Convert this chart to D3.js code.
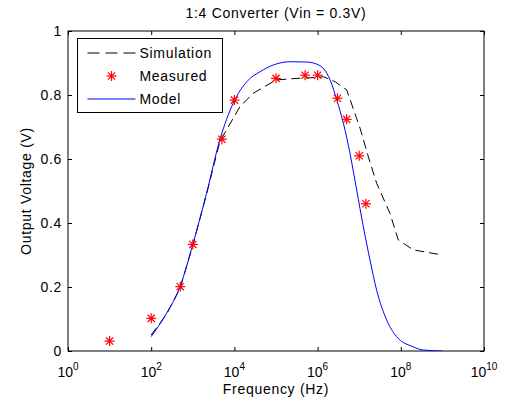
<!DOCTYPE html>
<html>
<head>
<meta charset="utf-8">
<script src="https://cdn.jsdelivr.net/npm/d3@7"></script>
<style>
  body { margin: 0; background: #fff; }
  svg { display: block; }
  text { font-family: Arial, "Liberation Sans", Helvetica, sans-serif; fill: #000; }
</style>
</head>
<body>
<svg id="chart" width="508" height="408"></svg>
<script>
// ---- data ----
const title = "1:4 Converter (Vin = 0.3V)";
const xLabel = "Frequency (Hz)";
const yLabel = "Output Voltage (V)";
const legendLabels = ["Simulation", "Measured", "Model"];

const xTickExps = [0, 2, 4, 6, 8, 10];
const yTicks = [0, 0.2, 0.4, 0.6, 0.8, 1];

const measuredFreq = [1e1, 1e2, 5e2, 1e3, 5e3, 1e4, 1e5, 5e5, 1e6, 3e6, 5e6, 1e7, 1.45e7];
const measuredVolt = [0.031, 0.102, 0.201, 0.333, 0.662, 0.784, 0.852, 0.862, 0.862, 0.79, 0.724, 0.61, 0.46];

const simFreq = [1e2, 2.34e2, 4.9e2, 1e3, 2.14e3, 4.47e3, 1.35e4, 2.8e4, 1e5, 3.2e5, 1e6, 1.38e6, 2.6e6, 5e6, 1.05e7, 1.66e7, 2.63e7, 5.5e7, 8.7e7, 2e8, 1e9];
const simVolt = [0.05, 0.115, 0.195, 0.33, 0.49, 0.655, 0.763, 0.805, 0.847, 0.852, 0.855, 0.857, 0.842, 0.816, 0.696, 0.607, 0.524, 0.43, 0.347, 0.316, 0.30];

const modelFreq = [1e2, 2.34e2, 4.9e2, 1.02e3, 2.14e3, 4.47e3, 9.33e3, 2.0e4, 4.17e4, 8.7e4, 2.19e5, 5.5e5, 7.9e5, 1.38e6, 2.0e6, 2.9e6, 4.2e6, 6.0e6, 8.7e6, 1.26e7, 1.82e7, 2.63e7, 4.57e7, 7.9e7, 2.0e8, 3.5e8, 1e9];
const modelVolt = [0.045, 0.118, 0.2, 0.337, 0.493, 0.66, 0.774, 0.842, 0.873, 0.894, 0.904, 0.903, 0.90, 0.883, 0.847, 0.784, 0.71, 0.618, 0.503, 0.388, 0.284, 0.19, 0.097, 0.045, 0.013, 0.003, 0.0];

// ---- layout ----
const margin = {left: 68, top: 31, right: 24, bottom: 57};
const W = 508, H = 408;
const pw = W - margin.left - margin.right;
const ph = H - margin.top - margin.bottom;
const FS = "14px", LS = "0.7px";

const svg = d3.select("#chart");
const g = svg.append("g").attr("transform", `translate(${margin.left},${margin.top})`);

const x = d3.scaleLog().domain([1, 1e10]).range([0, pw]);
const y = d3.scaleLinear().domain([0, 1]).range([ph, 0]);

g.append("clipPath").attr("id", "clip").append("rect").attr("width", pw).attr("height", ph);

// axes (ticks inside, on all sides)
const xTickVals = xTickExps.map(e => Math.pow(10, e));
const bottomAxis = d3.axisBottom(x).tickValues(xTickVals).tickSize(-4).tickFormat("");
const topAxis = d3.axisTop(x).tickValues(xTickVals).tickSize(-4).tickFormat("");
const leftAxis = d3.axisLeft(y).tickValues(yTicks).tickSize(-4).tickPadding(6).tickFormat(d3.format("~g"));
const rightAxis = d3.axisRight(y).tickValues(yTicks).tickSize(-4).tickFormat("");

function styleAxis(sel) {
  sel.select(".domain").remove();
  sel.selectAll("line").attr("stroke", "#000");
  sel.selectAll("text").style("font-size", FS).style("letter-spacing", LS).attr("fill", "#000");
}
g.append("g").attr("transform", `translate(0,${ph})`).call(bottomAxis).call(styleAxis);
g.append("g").call(topAxis).call(styleAxis);
g.append("g").call(leftAxis).call(styleAxis);
g.append("g").attr("transform", `translate(${pw},0)`).call(rightAxis).call(styleAxis);

// x tick labels with superscripts
const xl = g.append("g");
xTickExps.forEach(e => {
  const t = xl.append("text")
    .attr("x", x(Math.pow(10, e)))
    .attr("y", ph + 26)
    .attr("text-anchor", "middle")
    .style("font-size", "14px");
  t.append("tspan").text("10");
  t.append("tspan").attr("dy", -7).style("font-size", "10px").text(String(e));
});

// box
g.append("rect").attr("width", pw).attr("height", ph)
  .attr("fill", "none").attr("stroke", "#000").attr("stroke-width", 1);

// lines
const plot = g.append("g").attr("clip-path", "url(#clip)");

plot.append("path").datum(simFreq)
  .attr("d", d3.line().x((d, i) => x(simFreq[i])).y((d, i) => y(simVolt[i]))(simFreq))
  .attr("fill", "none").attr("stroke", "#000").attr("stroke-width", 1)
  .attr("stroke-dasharray", "9,5");

plot.append("path").datum(modelFreq)
  .attr("d", d3.line().curve(d3.curveMonotoneX).x((d, i) => x(modelFreq[i])).y((d, i) => y(modelVolt[i]))(modelFreq))
  .attr("fill", "none").attr("stroke", "#0000ff").attr("stroke-width", 1);

// asterisk marker
function asterisk(sel, cx, cy, r) {
  const gg = sel.append("g").attr("transform", `translate(${cx},${cy})`)
    .attr("stroke", "#ff0000").attr("stroke-width", 1.2);
  gg.append("line").attr("x1", -r).attr("x2", r).attr("y1", 0).attr("y2", 0);
  gg.append("line").attr("x1", 0).attr("x2", 0).attr("y1", -r).attr("y2", r);
  const d = r * 0.72;
  gg.append("line").attr("x1", -d).attr("x2", d).attr("y1", -d).attr("y2", d);
  gg.append("line").attr("x1", -d).attr("x2", d).attr("y1", d).attr("y2", -d);
}
const mk = g.append("g");
measuredFreq.forEach((f, i) => asterisk(mk, x(f), y(measuredVolt[i]), 5));

// title & labels
svg.append("text").attr("x", margin.left + pw / 2).attr("y", 18)
  .attr("text-anchor", "middle").style("font-size", FS).style("letter-spacing", LS).text(title);
svg.append("text").attr("x", margin.left + pw / 2).attr("y", 394)
  .attr("text-anchor", "middle").style("font-size", FS).style("letter-spacing", LS).text(xLabel);
svg.append("text").attr("transform", `translate(31,${margin.top + ph / 2}) rotate(-90)`)
  .attr("text-anchor", "middle").style("font-size", FS).style("letter-spacing", LS).text(yLabel);

// legend
const lg = svg.append("g").attr("transform", "translate(77.5,38.5)");
lg.append("rect").attr("width", 145).attr("height", 74)
  .attr("fill", "#fff").attr("stroke", "#000").attr("stroke-width", 1);
const rows = [14.5, 37.5, 60.5];
lg.append("line").attr("x1", 10).attr("x2", 58).attr("y1", rows[0]).attr("y2", rows[0])
  .attr("stroke", "#000").attr("stroke-dasharray", "12,6");
asterisk(lg, 34, rows[1], 5);
lg.append("line").attr("x1", 10).attr("x2", 58).attr("y1", rows[2]).attr("y2", rows[2])
  .attr("stroke", "#0000ff");
legendLabels.forEach((t, i) => {
  lg.append("text").attr("x", 62).attr("y", rows[i] + 5)
    .style("font-size", FS).style("letter-spacing", LS).text(t);
});
</script>
</body>
</html>
